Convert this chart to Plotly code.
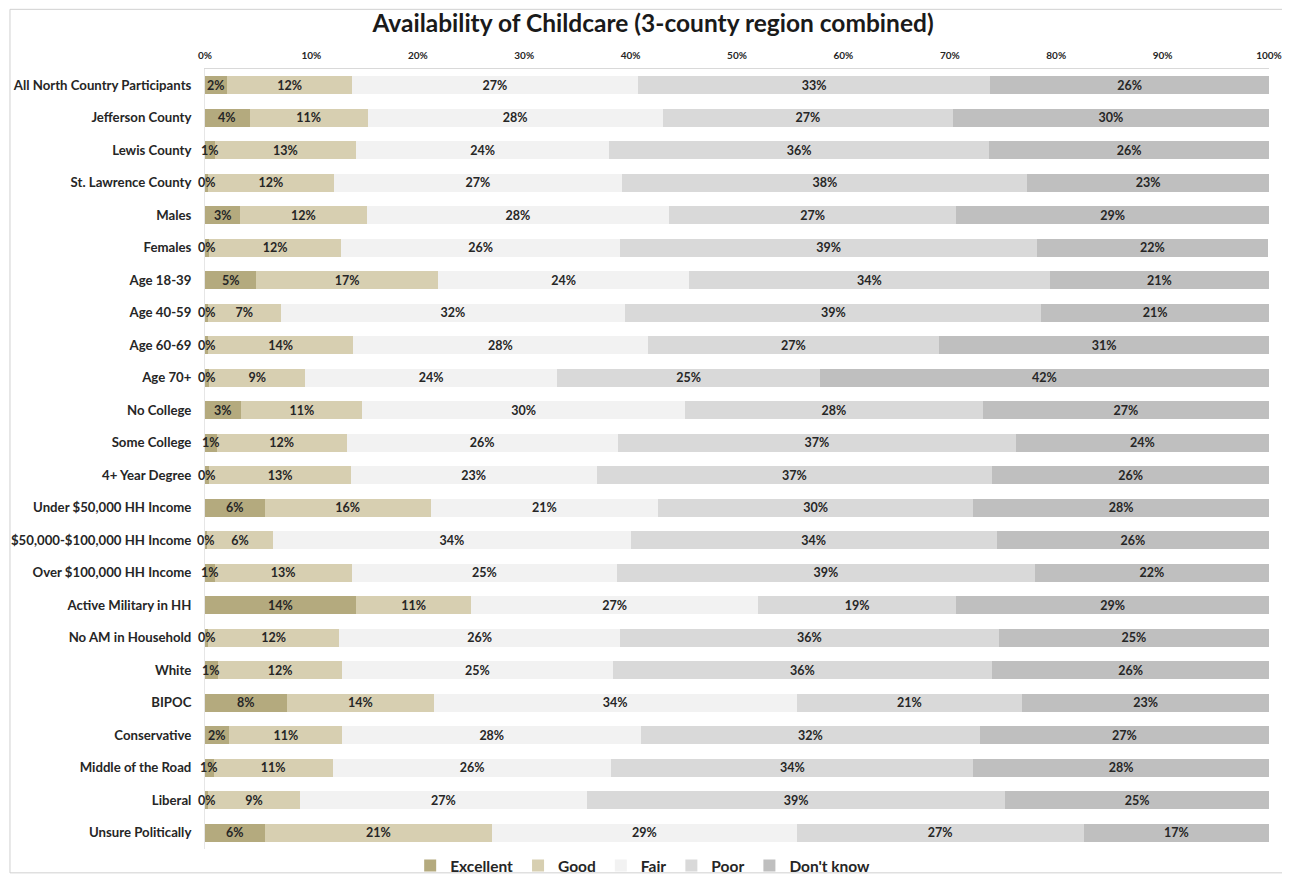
import plotly.graph_objects as go

# groups, top to bottom
groups = ["All North Country Participants", "Jefferson County", "Lewis County",
          "St. Lawrence County", "Males", "Females", "Age 18-39", "Age 40-59",
          "Age 60-69", "Age 70+", "No College", "Some College", "4+ Year Degree",
          "Under $50,000 HH Income", "$50,000-$100,000 HH Income",
          "Over $100,000 HH Income", "Active Military in HH", "No AM in Household",
          "White", "BIPOC", "Conservative", "Middle of the Road", "Liberal",
          "Unsure Politically"]

excellent = [2.1, 4.2, 0.9, 0.3, 3.3, 0.4, 4.8, 0.3, 0.3, 0.4, 3.4, 1.1,
             0.4, 5.6, 0.2, 0.9, 14.2, 0.3, 1.2, 7.7, 2.3, 0.8, 0.3, 5.6]
good = [11.7, 11.1, 13.3, 11.8, 11.9, 12.4, 17.1, 6.8, 13.6, 9.0, 11.4, 12.2,
        13.3, 15.6, 6.2, 12.9, 10.8, 12.3, 11.7, 13.8, 10.6, 11.2, 8.6, 21.4]
fair = [26.9, 27.7, 23.8, 27.1, 28.4, 26.2, 23.6, 32.4, 27.7, 23.7, 30.3, 25.5,
        23.1, 21.4, 33.6, 24.9, 27.0, 26.4, 25.4, 34.1, 28.1, 26.2, 27.0, 28.6]
poor = [33.1, 27.3, 35.7, 38.1, 27.0, 39.2, 33.9, 39.1, 27.4, 24.7, 28.0, 37.4,
        37.2, 29.6, 34.4, 39.3, 18.6, 35.6, 35.7, 21.2, 31.8, 34.0, 39.3, 27.0]
dont_know = [26.2, 29.7, 26.3, 22.7, 29.4, 21.7, 20.6, 21.4, 31.0, 42.2, 26.9,
             23.8, 26.0, 27.8, 25.6, 22.0, 29.4, 25.4, 26.0, 23.2, 27.2, 27.8,
             24.8, 17.4]

series = [("Excellent", excellent, "#b4aa7e"),
          ("Good", good, "#d7cfb1"),
          ("Fair", fair, "#f2f2f2"),
          ("Poor", poor, "#d9d9d9"),
          ("Don't know", dont_know, "#bfbfbf")]

lblfont = dict(size=12.5, color="#262626", family="Lato", weight="bold")

fig = go.Figure()
for name, vals, col in series:
    fig.add_trace(go.Bar(
        y=groups, x=vals, name=name, orientation="h",
        marker=dict(color=col, line=dict(width=0)),
        text=[f"{v:.0f}%" for v in vals],
        textposition="none" if name == "Excellent" else "inside",
        insidetextanchor="middle", textangle=0,
        textfont=lblfont, hoverinfo="skip"))

# excellent labels often sit on slivers, so draw them unscaled
for g, v in zip(groups, excellent):
    fig.add_annotation(x=v / 2, y=g, text=f"{v:.0f}%", showarrow=False,
                       font=lblfont, xanchor="center")

# page body adds an 8px offset, margins below allow for it
fig.update_layout(
    barmode="stack", bargap=0.44,
    width=1290, height=878,
    paper_bgcolor="white", plot_bgcolor="white",
    margin=dict(l=197, r=29, t=61, b=28),
    font=dict(family="Lato", color="#262626"),
    title=dict(text="<b>Availability of Childcare (3-county region combined)</b>",
               x=0.5, xanchor="center", y=1, yanchor="top", pad=dict(t=7),
               font=dict(size=24.5, color="#1a1a1a", family="Lato")),
    uniformtext=dict(minsize=12.5, mode="show"),
    legend=dict(orientation="h", x=0.492, xanchor="center", xref="container",
                y=0.0228, yanchor="middle", yref="container",
                font=dict(size=15.5, family="Lato", weight="bold"),
                traceorder="normal", itemwidth=30, bgcolor="rgba(0,0,0,0)"),
    shapes=[dict(type="rect", xref="paper", yref="paper", x0=-0.1833, x1=1.016,
                 y0=-0.0306, y1=1.0765, line=dict(color="#d0d0d0", width=1))],
)
fig.update_xaxes(range=[0, 100], dtick=10, ticksuffix="%", side="top",
                 showgrid=False, zeroline=False, showline=True, automargin=False,
                 linecolor="#d9d9d9", ticks="", ticklabelstandoff=5,
                 tickfont=dict(size=10, family="Lato", weight="bold", color="#262626"))
fig.update_yaxes(autorange="reversed", showgrid=False, showline=True,
                 automargin=False, linecolor="#e6e6e6", ticks="",
                 ticklabelstandoff=10,
                 tickfont=dict(size=13.2, family="Lato", weight="bold", color="#262626"))

fig.write_html("out.html")
